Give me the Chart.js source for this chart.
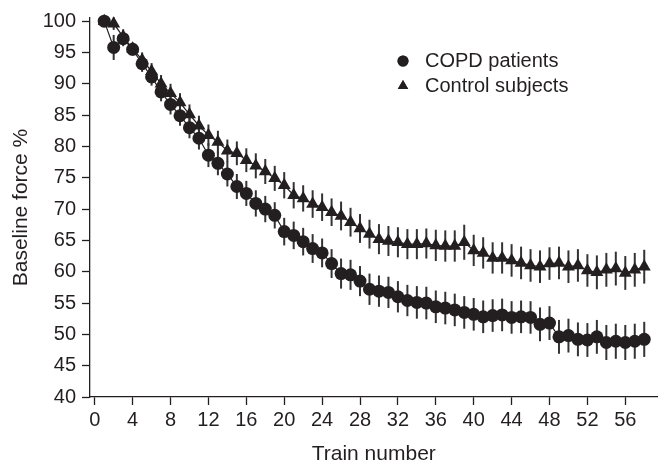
<!DOCTYPE html>
<html>
<head>
<meta charset="utf-8">
<script src="https://cdn.jsdelivr.net/npm/chart.js@4/dist/chart.umd.min.js"></script>
<style>
  html, body { margin: 0; padding: 0; background: #fff; }
  #wrap { width: 665px; height: 465px; position: relative; }
</style>
</head>
<body>
<div id="wrap"><canvas id="chart"></canvas></div>
<script>
// data
let trainNo = [1, 2, 3, 4, 5, 6, 7, 8, 9, 10, 11, 12, 13, 14, 15, 16, 17, 18, 19, 20,
    21, 22, 23, 24, 25, 26, 27, 28, 29, 30, 31, 32, 33, 34, 35, 36, 37, 38, 39, 40,
    41, 42, 43, 44, 45, 46, 47, 48, 49, 50, 51, 52, 53, 54, 55, 56, 57, 58];

let copdForce = [100, 95.8, 97.2, 95.5, 93.2, 91.1, 88.7, 86.7, 84.9, 83.0,
    81.3, 78.6, 77.3, 75.6, 73.6, 72.5, 70.9, 70.0, 69.0, 66.4,
    65.8, 64.8, 63.7, 63.0, 61.3, 59.7, 59.5, 58.5, 57.2, 56.9,
    56.7, 56.0, 55.4, 55.1, 55.0, 54.4, 54.2, 53.9, 53.5, 53.2,
    52.8, 53.0, 53.1, 52.7, 52.8, 52.7, 51.6, 51.8, 49.6, 49.8,
    49.2, 49.1, 49.6, 48.7, 48.9, 48.7, 48.9, 49.2];

let controlForce = [100, 99.6, 97.5, 95.6, 93.8, 92.0, 90.0, 88.5, 87.0, 85.1,
    83.3, 81.8, 80.7, 79.3, 78.9, 77.8, 76.9, 76.0, 74.9, 73.8,
    72.2, 71.7, 70.8, 70.3, 69.5, 68.9, 67.9, 66.9, 66.0, 65.2,
    64.9, 64.7, 64.4, 64.4, 64.5, 64.2, 64.1, 64.1, 64.7, 63.4,
    63.0, 62.2, 62.2, 61.8, 61.4, 61.0, 60.8, 61.3, 61.4, 60.8,
    61.0, 60.2, 59.9, 60.3, 60.5, 59.8, 60.3, 60.8];

let copdErr = [0, 2.0, 1.2, 1.0, 1.3, 1.4, 1.5, 1.6, 1.6, 1.7,
    1.8, 1.9, 1.9, 2.0, 2.0, 2.0, 2.1, 2.1, 2.1, 2.2,
    2.2, 2.2, 2.3, 2.3, 2.3, 2.4, 2.4, 2.4, 2.5, 2.5,
    2.5, 2.5, 2.5, 2.6, 2.6, 2.6, 2.6, 2.6, 2.6, 2.6,
    2.6, 2.6, 2.6, 2.6, 2.6, 2.6, 2.7, 2.7, 2.7, 2.7,
    2.7, 2.7, 2.7, 2.8, 2.8, 2.8, 2.8, 2.8];

let controlErr = [0, 1.0, 1.2, 1.0, 1.2, 1.3, 1.4, 1.5, 1.5, 1.6,
    1.6, 1.7, 1.8, 1.8, 1.9, 1.9, 2.0, 2.0, 2.0, 2.1,
    2.1, 2.1, 2.2, 2.2, 2.2, 2.3, 2.3, 2.3, 2.3, 2.4,
    2.4, 2.4, 2.4, 2.4, 2.4, 2.5, 2.5, 2.5, 2.8, 2.5,
    2.5, 2.5, 2.5, 2.6, 2.6, 2.6, 2.6, 2.6, 2.6, 2.6,
    2.6, 2.6, 2.7, 2.7, 2.7, 2.7, 2.7, 2.7];

let xTicks = [0, 4, 8, 12, 16, 20, 24, 28, 32, 36, 40, 44, 48, 52, 56];
let yTicks = [40, 45, 50, 55, 60, 65, 70, 75, 80, 85, 90, 95, 100];

let seriesNames = ["COPD patients", "Control subjects"];

let ink = "#231f20";
let fontName = "'Liberation Sans', Arial, sans-serif";

function toPoints(vals) {
    let pts = [];
    for (let i = 0; i < vals.length; i++) {
        pts.push({ x: trainNo[i], y: vals[i] });
    }
    return pts;
}

// vertical error bars, drawn under the markers
let errorBars = {
    id: "errorBars",
    beforeDatasetsDraw(chart) {
        let ctx = chart.ctx;
        let xs = chart.scales.x;
        let ys = chart.scales.y;
        let sets = [[copdForce, copdErr], [controlForce, controlErr]];
        ctx.save();
        ctx.strokeStyle = "#333";
        ctx.lineWidth = 2;
        for (let s = 0; s < sets.length; s++) {
            let vals = sets[s][0];
            let errs = sets[s][1];
            for (let i = 0; i < vals.length; i++) {
                if (!errs[i]) continue;
                let px = xs.getPixelForValue(trainNo[i]);
                ctx.beginPath();
                ctx.moveTo(px, ys.getPixelForValue(vals[i] + errs[i]));
                ctx.lineTo(px, ys.getPixelForValue(vals[i] - errs[i]));
                ctx.stroke();
            }
        }
        ctx.restore();
    }
};

// legend inside the plot, top right
let innerLegend = {
    id: "innerLegend",
    afterDraw(chart) {
        let ctx = chart.ctx;
        ctx.save();
        ctx.fillStyle = ink;
        ctx.font = "20px " + fontName;
        ctx.textBaseline = "middle";
        ctx.textAlign = "left";
        let rows = [61, 86];
        let styles = ["circle", "triangle"];
        for (let i = 0; i < rows.length; i++) {
            Chart.helpers.drawPoint(ctx, {
                pointStyle: styles[i],
                radius: i === 0 ? 5.5 : 6,
                borderWidth: 0
            }, 403, rows[i]);
            ctx.fill();
            ctx.fillText(seriesNames[i], 425, rows[i]);
        }
        ctx.restore();
    }
};

new Chart("chart", {
    type: "scatter",
    data: {
        datasets: [{
            label: seriesNames[0],
            data: toPoints(copdForce),
            showLine: true,
            borderColor: ink,
            borderWidth: 1.2,
            backgroundColor: ink,
            pointStyle: "circle",
            pointRadius: 6.5,
            pointBorderWidth: 0,
            pointBackgroundColor: ink,
            clip: false
        }, {
            label: seriesNames[1],
            data: toPoints(controlForce),
            showLine: true,
            borderColor: ink,
            borderWidth: 1.2,
            backgroundColor: ink,
            pointStyle: "triangle",
            pointRadius: 7.5,
            pointBorderWidth: 0,
            pointBackgroundColor: ink,
            clip: false
        }]
    },
    options: {
        responsive: true,
        maintainAspectRatio: false,
        animation: false,
        layout: { padding: 0 },
        plugins: {
            legend: { display: false },
            tooltip: { enabled: false }
        },
        scales: {
            x: {
                type: "linear",
                min: -0.5,
                max: 59.4,
                afterBuildTicks: function (scale) {
                    scale.ticks = xTicks.map(v => ({ value: v }));
                },
                afterFit: function (scale) { scale.height = 68; },
                border: { display: true, color: ink, width: 1.3 },
                grid: { display: true, drawOnChartArea: false, drawTicks: true, tickLength: 8, color: ink, tickWidth: 1.3 },
                ticks: { color: ink, font: { family: fontName, size: 20 }, padding: 3, maxRotation: 0, autoSkip: false },
                title: {
                    display: true,
                    text: "Train number",
                    color: ink,
                    font: { family: fontName, size: 21, lineHeight: 1 },
                    padding: { top: 0, bottom: 0 }
                }
            },
            y: {
                type: "linear",
                min: 40,
                max: 100.5,
                afterBuildTicks: function (scale) {
                    scale.ticks = yTicks.map(v => ({ value: v }));
                },
                afterFit: function (scale) { scale.width = 90; },
                border: { display: true, color: ink, width: 1.3 },
                grid: { display: true, drawOnChartArea: false, drawTicks: true, tickLength: 8, color: ink, tickWidth: 1.3 },
                ticks: { color: ink, font: { family: fontName, size: 20 }, padding: 6, autoSkip: false },
                title: {
                    display: true,
                    text: "Baseline force %",
                    color: ink,
                    font: { family: fontName, size: 21, lineHeight: 1.2 },
                    padding: { top: 9, bottom: 0 }
                }
            }
        }
    },
    plugins: [errorBars, innerLegend]
});
</script>
</body>
</html>
